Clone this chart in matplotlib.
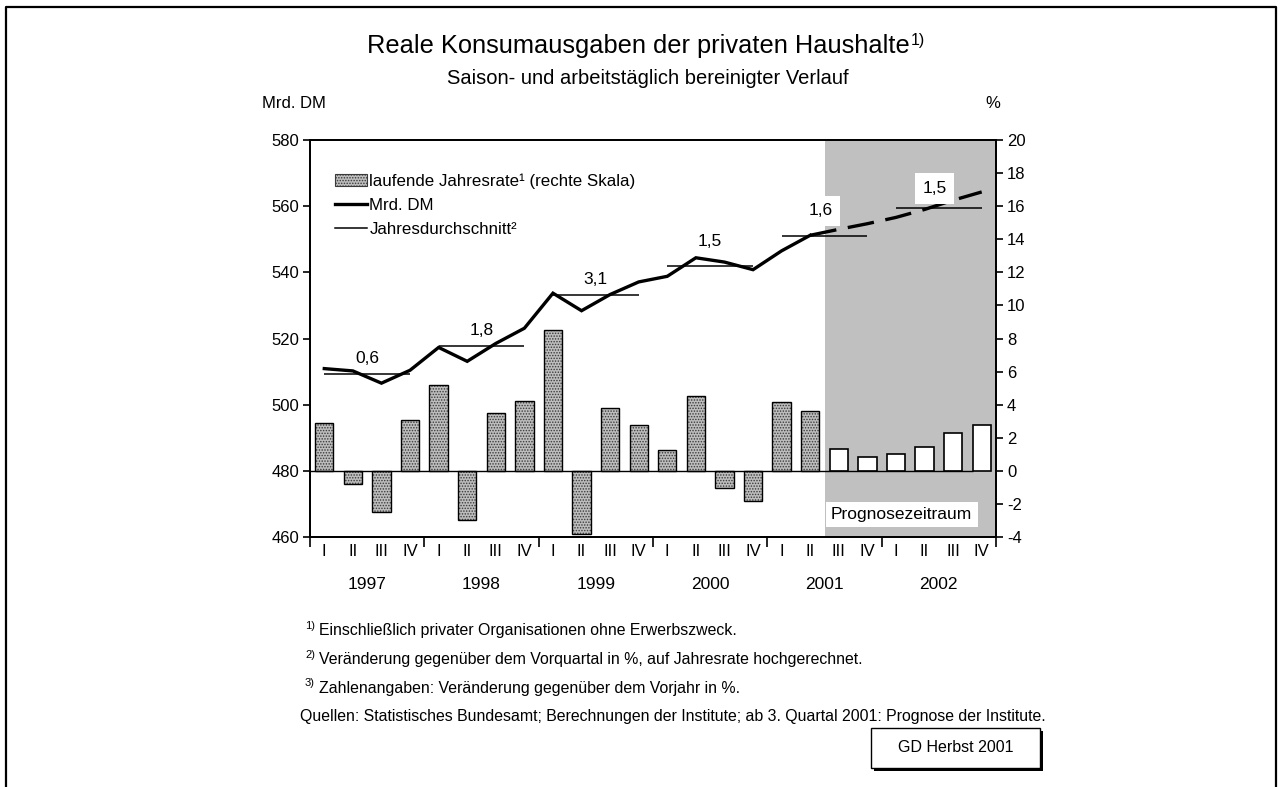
import numpy as np
import matplotlib.pyplot as plt
from matplotlib.patches import Patch, Rectangle
from matplotlib.lines import Line2D

plt.rcParams['font.family'] = ['Liberation Sans', 'DejaVu Sans']
plt.rcParams['hatch.linewidth'] = 0.7
plt.rcParams['axes.unicode_minus'] = False

W, H = 1284, 787

# Daten
quarters = ['I', 'II', 'III', 'IV'] * 6
years = ['1997', '1998', '1999', '2000', '2001', '2002']
rate = [2.9, -0.8, -2.5, 3.1, 5.2, -3.0, 3.5, 4.2,
        8.5, -3.8, 3.8, 2.8, 1.25, 4.5, -1.05, -1.8,
        4.15, 3.6, 1.35, 0.85, 1.0, 1.45, 2.3, 2.8]
level = [510.9, 510.2, 506.5, 510.4, 517.3, 513.1, 518.5, 523.1,
         533.7, 528.4, 533.3, 537.1, 538.8, 544.4, 543.1, 540.8,
         546.5, 551.2, 553.0, 554.7, 556.6, 559.0, 561.8, 564.3]
year_avg = [509.4, 517.7, 533.1, 541.9, 551.0, 559.5]
year_growth = ['0,6', '1,8', '3,1', '1,5', '1,6', '1,5']
n_actual = 18  # Ist-Werte bis 2. Quartal 2001

# Abstand der Jahreszahlen-Beschriftung über der Linie (Punkte)
label_dy = [11, 11, 11, 18, 18, 14]
label_dx = [0, 0, 0, 0, -0.15, -0.15]


def fx(px):
    return px / W


def fy(py):
    return 1 - py / H


fig = plt.figure(figsize=(W / 100, H / 100), dpi=100, facecolor='white')
ax2 = fig.add_axes([fx(310), fy(537), 686 / W, 397 / H])
ax = ax2.twinx()
ax.yaxis.tick_left()
ax2.yaxis.tick_right()

x = np.arange(len(rate))

# Prognosezeitraum
ax2.axvspan(n_actual - 0.5, len(rate) - 0.5, color='#c0c0c0', lw=0, zorder=0)

# Balken (rechte Skala)
bw = 0.64
bar_face = '#bdbdbd'
bar_hatch = '#3a3a3a'
ax2.bar(x[:n_actual], rate[:n_actual], width=bw, color=bar_face,
        hatch='......', edgecolor=bar_hatch, lw=0, zorder=2)
ax2.bar(x[:n_actual], rate[:n_actual], width=bw, color='none',
        edgecolor='black', lw=1.0, zorder=3)
ax2.bar(x[n_actual:], rate[n_actual:], width=bw, color='white',
        edgecolor='black', lw=1.2, zorder=3)
ax2.hlines(0, -0.5, len(rate) - 1.3, color='black', lw=1.0, zorder=4)

ax2.text(20.2, -2.65, 'Prognosezeitraum', ha='center', va='center', fontsize=12.5,
         bbox=dict(boxstyle='square,pad=0.3', fc='white', ec='none'), zorder=5)

ax2.set_ylim(-4, 20)
ax2.set_yticks(np.arange(-4, 21, 2))

# Linie (linke Skala)
ax.plot(x[:n_actual], level[:n_actual], color='black', lw=2.4, zorder=5,
        solid_joinstyle='miter')
ax.plot(x[n_actual - 1:], level[n_actual - 1:], color='black', lw=2.4,
        dashes=(8, 3.5), zorder=5)

starts = np.arange(len(years)) * 4
ax.hlines(year_avg, starts, starts + 3, color='black', lw=1.1, zorder=4)
for i, (s, v, lab) in enumerate(zip(starts, year_avg, year_growth)):
    kw = {}
    if i >= 4:
        kw['bbox'] = dict(boxstyle='square,pad=0.45', fc='white', ec='none')
    ax.annotate(lab, (s + 1.5 + label_dx[i], v), xytext=(0, label_dy[i]),
                textcoords='offset points', ha='center', va='center',
                fontsize=12.5, zorder=6, **kw)

ax.set_ylim(460, 580)
ax.set_yticks(np.arange(460, 581, 20))
ax.set_xlim(-0.5, len(rate) - 0.5)
ax.set_zorder(ax2.get_zorder() + 1)
ax.patch.set_visible(False)

# Achsen
for a in (ax, ax2):
    for sp in a.spines.values():
        sp.set_linewidth(1.3)
ax2.set_xticks(np.arange(-0.5, len(rate), 4))
ax2.set_xticklabels([])
ax2.set_xticks(x, minor=True)
ax2.set_xticklabels(quarters, minor=True)
ax2.tick_params(axis='x', which='major', length=7, width=1.2, direction='out')
ax2.tick_params(axis='x', which='minor', length=0, pad=5, labelsize=12)
ax.tick_params(axis='y', length=5, width=1.2, labelsize=12, pad=3)
ax2.tick_params(axis='y', length=5, width=1.2, labelsize=12, pad=3)

for i, yr in enumerate(years):
    ax2.text(starts[i] + 1.5, -0.12, yr, transform=ax2.get_xaxis_transform(),
             ha='center', va='center', fontsize=12.5)

# Legende
handles = [Patch(facecolor=bar_face, edgecolor=bar_hatch, hatch='......', lw=0.8),
           Line2D([], [], color='black', lw=2.4),
           Line2D([], [], color='black', lw=1.1)]
labels = ['laufende Jahresrate\u00b9 (rechte Skala)', 'Mrd. DM', 'Jahresdurchschnitt\u00b2']
ax.legend(handles, labels, loc='upper left', bbox_to_anchor=(0.036, 0.915),
          frameon=False, fontsize=12.2, borderpad=0, borderaxespad=0,
          handlelength=1.9, handletextpad=0.15, labelspacing=0.52)

# Texte
fig.text(fx(262), fy(103), 'Mrd. DM', ha='left', va='center', fontsize=12)
fig.text(fx(993), fy(103), '%', ha='center', va='center', fontsize=12)

title = fig.text(fx(367), fy(46), 'Reale Konsumausgaben der privaten Haushalte',
                 ha='left', va='center', fontsize=18.3)
fig.text(fx(647.5), fy(78), 'Saison- und arbeitst\u00e4glich bereinigter Verlauf',
         ha='center', va='center', fontsize=14.5)

fig.canvas.draw()
bb = title.get_window_extent()
fig.text(bb.x1 / W + 0.001, fy(40), '1)', ha='left', va='center', fontsize=11.5)

notes = [('1)', 'Einschlie\u00dflich privater Organisationen ohne Erwerbszweck.'),
         ('2)', 'Ver\u00e4nderung gegen\u00fcber dem Vorquartal in %, auf Jahresrate hochgerechnet.'),
         ('3)', 'Zahlenangaben: Ver\u00e4nderung gegen\u00fcber dem Vorjahr in %.')]
for i, (sup, txt) in enumerate(notes):
    yy = 631 + i * 28.5
    fig.text(fx(305), fy(yy - 5), sup, ha='left', va='center', fontsize=8)
    fig.text(fx(319), fy(yy), txt, ha='left', va='center', fontsize=11.4)
fig.text(fx(300), fy(716), 'Quellen: Statistisches Bundesamt; Berechnungen der Institute; '
         'ab 3. Quartal 2001: Prognose der Institute.', ha='left', va='center', fontsize=11.4)

# GD-Kasten mit Schatten
fig.add_artist(Rectangle((fx(874), fy(771)), 169 / W, 40 / H, transform=fig.transFigure,
                         fc='black', ec='none'))
fig.add_artist(Rectangle((fx(871), fy(768)), 169 / W, 40 / H, transform=fig.transFigure,
                         fc='white', ec='black', lw=1))
fig.text(fx(955.5), fy(748), 'GD Herbst 2001', ha='center', va='center', fontsize=11.5)

# Rahmen
fig.add_artist(Line2D([fx(6), fx(6), fx(1276), fx(1276)], [0, fy(7), fy(7), 0],
                      transform=fig.transFigure, color='black', lw=1.6))

fig.savefig('out.png', dpi=100, facecolor='white')
